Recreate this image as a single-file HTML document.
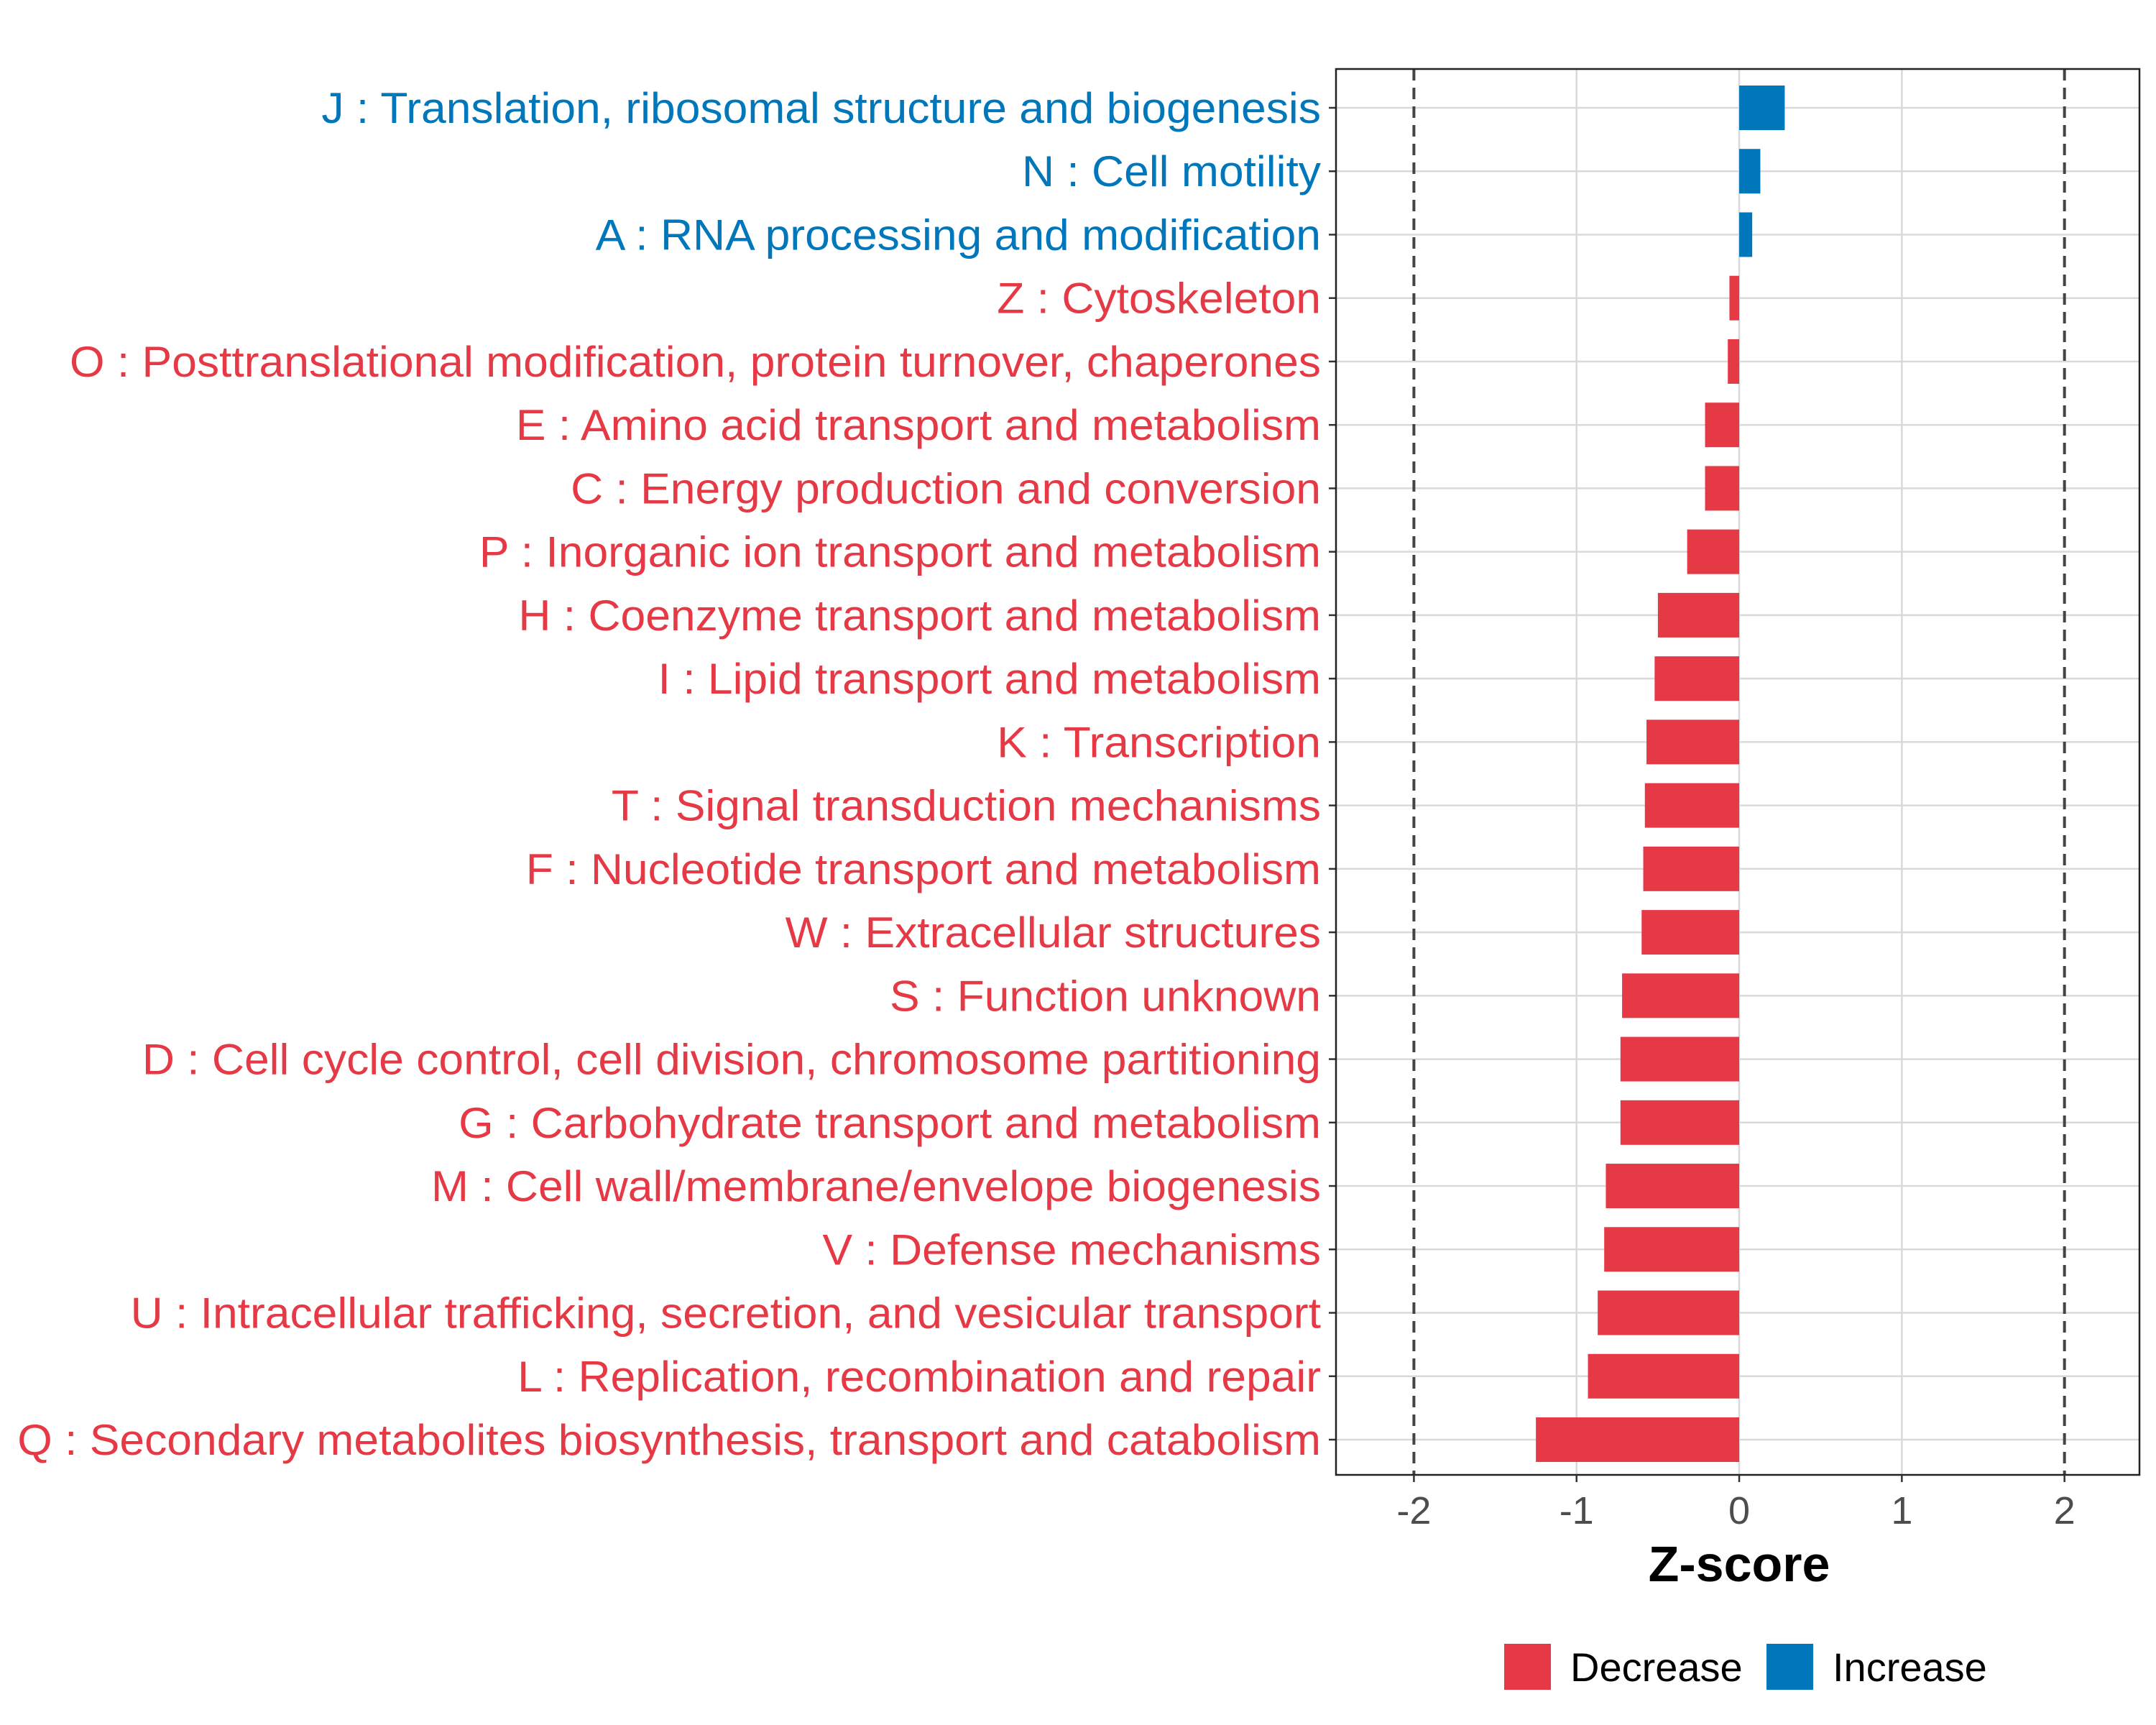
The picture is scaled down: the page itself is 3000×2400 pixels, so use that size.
<!DOCTYPE html>
<html><head><meta charset="utf-8"><style>
html,body{margin:0;padding:0;background:#fff}
svg{display:block}
text{font-family:"Liberation Sans",Arial,sans-serif}
</style></head><body>
<svg id="chart" width="3000" height="2400" viewBox="0 0 3000 2400"></svg>
<script>
const categories=["J : Translation, ribosomal structure and biogenesis","N : Cell motility","A : RNA processing and modification","Z : Cytoskeleton","O : Posttranslational modification, protein turnover, chaperones","E : Amino acid transport and metabolism","C : Energy production and conversion","P : Inorganic ion transport and metabolism","H : Coenzyme transport and metabolism","I : Lipid transport and metabolism","K : Transcription","T : Signal transduction mechanisms","F : Nucleotide transport and metabolism","W : Extracellular structures","S : Function unknown","D : Cell cycle control, cell division, chromosome partitioning","G : Carbohydrate transport and metabolism","M : Cell wall/membrane/envelope biogenesis","V : Defense mechanisms","U : Intracellular trafficking, secretion, and vesicular transport","L : Replication, recombination and repair","Q : Secondary metabolites biosynthesis, transport and catabolism"];
const zscores=[0.28,0.13,0.08,-0.06,-0.07,-0.21,-0.21,-0.32,-0.50,-0.52,-0.57,-0.58,-0.59,-0.60,-0.72,-0.73,-0.73,-0.82,-0.83,-0.87,-0.93,-1.25];
const xTicks=[-2,-1,0,1,2];
const xTickLabels=["-2","-1","0","1","2"];
const RED="#E63946",BLUE="#0077BB";
const svg=document.getElementById('chart');const NS="http://www.w3.org/2000/svg";
const P={l:1859,r:2977,t:96,b:2052};
const xmin=-2.479,xmax=2.461;
const x=v=>P.l+(v-xmin)/(xmax-xmin)*(P.r-P.l);
const y0=150,step=(2003-150)/21;
const y=i=>y0+i*step;
function el(t,a,txt){const e=document.createElementNS(NS,t);for(const k in a)e.setAttribute(k,a[k]);if(txt!=null)e.textContent=txt;svg.appendChild(e);return e;}
categories.forEach((c,i)=>{const g=el('line',{x1:P.l,x2:P.r,y1:y(i),y2:y(i),stroke:'#d9d9d9','stroke-width':2.5});

});
xTicks.forEach(v=>{if(Math.abs(v)===2)return;const g=el('line',{x1:x(v),x2:x(v),y1:P.t,y2:P.b,stroke:'#d9d9d9','stroke-width':2.5});

});
categories.forEach((c,i)=>{const v=zscores[i];const b=el('rect',{x:Math.min(x(0),x(v)),y:y(i)-31,width:Math.abs(x(v)-x(0)),height:62,fill:v>0?BLUE:RED});


const t=el('text',{x:0,y:0,'text-anchor':'end','font-size':60,fill:v>0?BLUE:RED,transform:`translate(1838,${y(i)+21}) scale(1.04,1)`},c);


const tk=el('line',{x1:P.l-10,x2:P.l,y1:y(i),y2:y(i),stroke:'#333','stroke-width':2.5});

});
[-2,2].forEach(v=>{const d=el('line',{x1:x(v),x2:x(v),y1:P.t,y2:P.b,stroke:'#444','stroke-width':4,'stroke-dasharray':'16,10'});

});
const fr=el('rect',{x:P.l,y:P.t,width:P.r-P.l,height:P.b-P.t,fill:'none',stroke:'#222','stroke-width':2.5});


xTicks.forEach((v,i)=>{const tk=el('line',{x1:x(v),x2:x(v),y1:P.b,y2:P.b+10,stroke:'#333','stroke-width':2.5});


const t=el('text',{x:x(v),y:2120,'text-anchor':'middle','font-size':54,fill:'#4d4d4d'},xTickLabels[i]);

});
const at=el('text',{x:x(0),y:2200,'text-anchor':'middle','font-size':70,'font-weight':'bold',fill:'#000'},'Z-score');


[[RED,'Decrease',2093,2185],[BLUE,'Increase',2458,2550]].forEach(([c,l,bx,tx])=>{
const r=el('rect',{x:bx,y:2287,width:65,height:64,fill:c});


const t=el('text',{x:tx,y:2339,'font-size':56,fill:'#000'},l);

});
</script>
</body></html>
